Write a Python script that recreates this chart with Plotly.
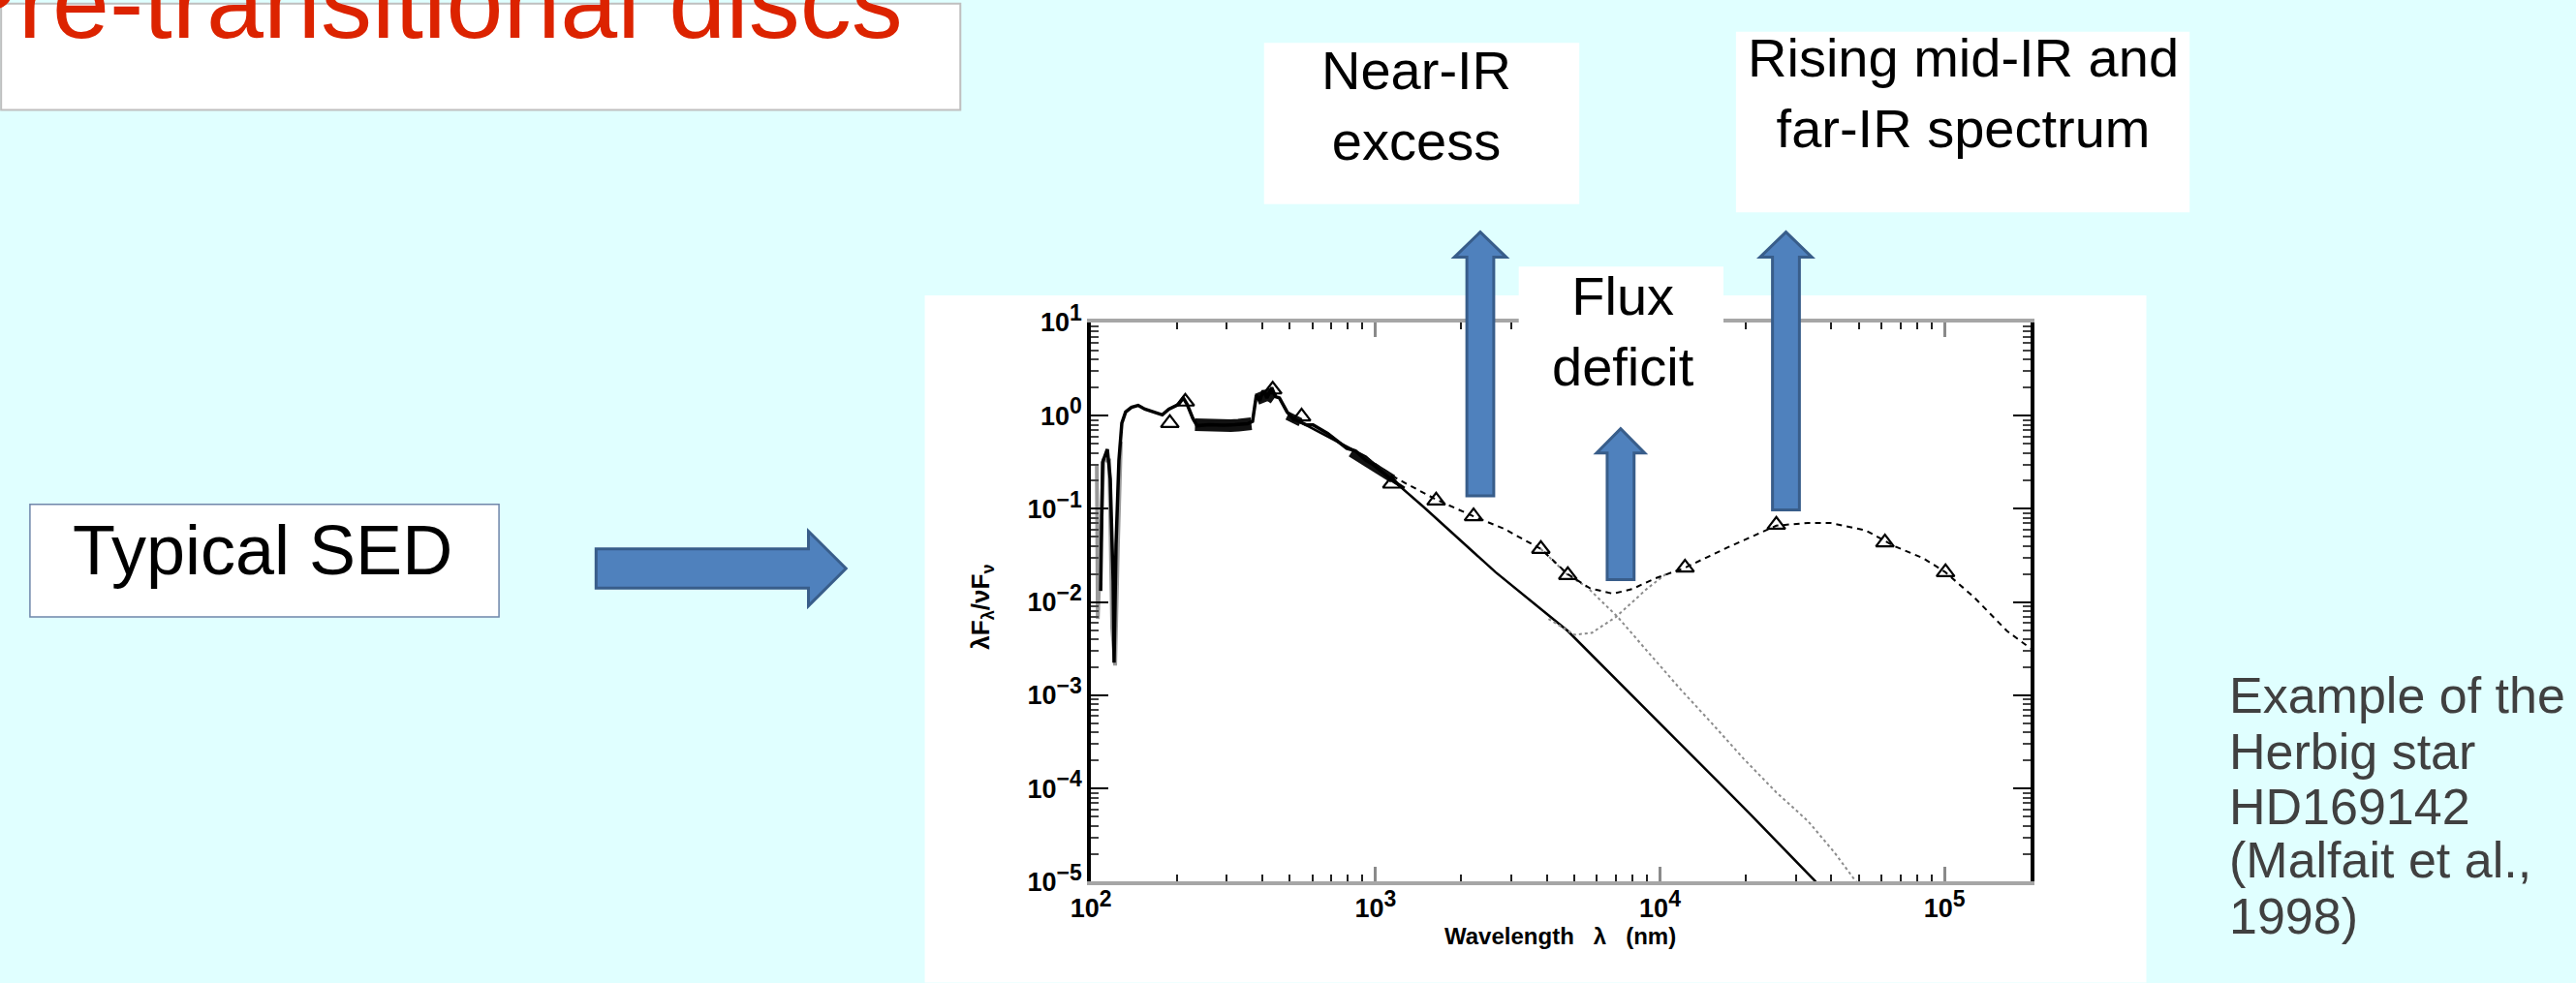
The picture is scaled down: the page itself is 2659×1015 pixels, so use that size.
import plotly.graph_objects as go

W, H = 2659, 1015

# ---------------- data ----------------
# observed UV/optical spectrum: wavelength (nm), lambda F_lambda / nu F_nu
spec_wl = [108.1, 108.9, 109.8, 114.1, 116.8, 119.6, 120.5, 122.4, 125.3, 128.3, 132.3, 138.7,
           146.4, 154.6, 167.1, 178.0, 187.8, 203.0, 211.0, 217.7, 228.1, 236, 260, 290, 320,
           355, 369.5, 381.2, 392, 402.5, 415, 431.6, 445, 459.4, 489.0, 510, 536.7, 570,
           603.1, 677.9, 791.8, 850, 925.1, 980, 1081, 1150, 1263]
spec_f = [0.0132, 0.066, 0.316, 0.437, 0.209, 0.0166, 0.00224, 0.0417, 0.331, 0.832, 1.096, 1.23,
          1.29, 1.175, 1.096, 1.02, 1.175, 1.318, 1.549, 1.318, 0.933, 0.78, 0.80, 0.79, 0.80,
          0.82, 0.871, 1.66, 1.45, 1.86, 1.55, 2.0, 1.6, 1.55, 1.096, 0.95, 0.871, 0.80,
          0.794, 0.646, 0.447, 0.42, 0.331, 0.30, 0.234, 0.20, 0.166]

# dense (noisy) stretches of the spectrum that print as thick bands
band1_wl = [232, 250, 270, 290, 310, 330, 350, 366]
band1_f = [0.80, 0.78, 0.77, 0.78, 0.78, 0.79, 0.80, 0.82]
band2_wl = [383, 400, 420, 440]
band2_f = [1.50, 1.62, 1.68, 1.52]
band3_wl = [490, 515, 545]
band3_f = [1.00, 0.92, 0.85]
band4_wl = [820, 1000, 1150]
band4_f = [0.40, 0.27, 0.21]

# grey low-resolution UV part
uv_wl = [104.8, 105.6, 110.6, 115.9, 118.7, 121.5, 124.3, 127.3]
uv_f = [0.295, 0.0066, 0.331, 0.331, 0.00525, 0.00209, 0.0417, 0.525]

# stellar photosphere model (solid)
phot_wl = [536.7, 925.1, 1476, 2644, 4740, 7383, 11775, 20780, 35270]
phot_f = [0.871, 0.363, 0.1047, 0.0209, 0.0049, 0.00126, 3.02e-4, 5.3e-5, 1.0e-5]

# total model (dashed)
tot_wl = [925.1, 1196, 1633, 2211, 2814, 3811, 4740, 5668, 6832, 7980, 9544, 12240, 17380,
          25630, 33130, 39630, 52840, 66710, 84300, 100800, 127300, 165800, 203000]
tot_f = [0.355, 0.209, 0.126, 0.0832, 0.0617, 0.0372, 0.01995, 0.0141, 0.0123, 0.0138, 0.0178,
         0.0234, 0.0389, 0.0661, 0.0708, 0.0708, 0.0589, 0.0398, 0.0295, 0.0209, 0.0112, 0.0049, 0.0031]

# star + inner disc component (dotted)
inner_wl = [3811, 4740, 5537, 7102, 9041, 11775, 15220, 19670, 25630, 33130, 40880, 48900]
inner_f = [0.0372, 0.0195, 0.0145, 0.00692, 0.00295, 0.00117, 5.0e-4, 2.09e-4, 9.1e-5, 4.47e-5,
           2.09e-5, 1.0e-5]

# star + outer disc component (dotted)
outer_wl = [4056, 5004, 5757, 6992, 9041, 10480]
outer_f = [0.00661, 0.00447, 0.00468, 0.00692, 0.0141, 0.01995]

# photometry (open triangles)
obs_wl = [189.2, 214.4, 435.0, 549.5, 1141, 1633, 2211, 3811, 4740, 12240, 25630, 61730, 100800]
obs_f = [0.832, 1.413, 1.905, 0.977, 0.186, 0.123, 0.0832, 0.0372, 0.0195, 0.0234, 0.0676,
         0.0437, 0.0209]

x_tick_vals = [1e2, 1e3, 1e4, 1e5]
x_tick_exp = ["2", "3", "4", "5"]
y_tick_vals = [1e-5, 1e-4, 1e-3, 1e-2, 1e-1, 1e0, 1e1]
y_tick_exp = ["\u22125", "\u22124", "\u22123", "\u22122", "\u22121", "0", "1"]

# ---------------- figure ----------------
def px(x):
    return x / W

def py(y):
    return 1 - y / H

FONT = "Liberation Sans, Arial, sans-serif"

def pow_label(e):
    return '10<sup><span style="font-size:23px">' + e + '</span></sup>'

fig = go.Figure()
fig.add_trace(go.Scatter(x=uv_wl, y=uv_f, mode="lines",
                         line=dict(color="#9a9a9a", width=4), hoverinfo="skip"))
fig.add_trace(go.Scatter(x=phot_wl, y=phot_f, mode="lines",
                         line=dict(color="black", width=2.5), hoverinfo="skip"))
fig.add_trace(go.Scatter(x=inner_wl, y=inner_f, mode="lines",
                         line=dict(color="#8c8c8c", width=2, dash="dot"), hoverinfo="skip"))
fig.add_trace(go.Scatter(x=outer_wl, y=outer_f, mode="lines",
                         line=dict(color="#8c8c8c", width=2, dash="dot"), hoverinfo="skip"))
fig.add_trace(go.Scatter(x=tot_wl, y=tot_f, mode="lines",
                         line=dict(color="black", width=2, dash="6px,5px"), hoverinfo="skip"))
for bw, bf, bwid in [(band1_wl, band1_f, 13), (band2_wl, band2_f, 12),
                     (band3_wl, band3_f, 9), (band4_wl, band4_f, 9)]:
    fig.add_trace(go.Scatter(x=bw, y=bf, mode="lines",
                             line=dict(color="#111111", width=bwid), hoverinfo="skip"))
fig.add_trace(go.Scatter(x=spec_wl, y=spec_f, mode="lines",
                         line=dict(color="black", width=3.5), hoverinfo="skip"))
fig.add_trace(go.Scatter(x=obs_wl, y=obs_f, mode="markers",
                         marker=dict(symbol="triangle-up-open", size=16, color="black",
                                     line=dict(width=2.2, color="black")), hoverinfo="skip"))

x_minor = [k * 10 ** e for e in range(2, 6) for k in range(2, 10) if k * 10 ** e <= 2e5]
y_minor = [k * 10.0 ** e for e in range(-5, 1) for k in range(2, 10)]

x0d = 1114
dec = 296
fig.update_xaxes(type="log", range=[2, 5.30103],
                 domain=[px(x0d), px(x0d + 3.30103 * dec)],
                 showgrid=False, zeroline=False,
                 showline=True, linecolor="#a6a6a6", linewidth=4, mirror="ticks",
                 ticks="inside", ticklen=15, tickwidth=3, tickcolor="#8a8a8a",
                 tickmode="array", tickvals=x_tick_vals,
                 ticktext=[pow_label(e) for e in x_tick_exp],
                 tickfont=dict(family=FONT, size=27, color="black", weight="bold"),
                 minor=dict(tickmode="array", tickvals=x_minor, ticks="inside", ticklen=7,
                            tickwidth=2, tickcolor="#222222", showgrid=False))
fig.update_yaxes(type="log", range=[-5, 1],
                 domain=[py(922), py(322)],
                 showgrid=False, zeroline=False,
                 showline=True, linecolor="black", linewidth=4, mirror="ticks",
                 ticks="inside", ticklen=18, tickwidth=2, tickcolor="black",
                 tickmode="array", tickvals=y_tick_vals,
                 ticktext=[pow_label(e) for e in y_tick_exp],
                 tickfont=dict(family=FONT, size=27, color="black", weight="bold"),
                 minor=dict(tickmode="array", tickvals=y_minor, ticks="inside", ticklen=8,
                            tickwidth=2, tickcolor="#444444", showgrid=False))

ARROW_FILL = "#4f81bd"
ARROW_LINE = "#385d8a"

def varrow(cx, tip, hb, hw, sw, by):
    pts = [(cx - sw, by), (cx - sw, hb), (cx - hw, hb), (cx, tip), (cx + hw, hb),
           (cx + sw, hb), (cx + sw, by)]
    path = "M " + " L ".join(f"{px(a):.6f},{py(b):.6f}" for a, b in pts) + " Z"
    return dict(type="path", path=path, xref="paper", yref="paper", layer="above",
                fillcolor=ARROW_FILL, line=dict(color=ARROW_LINE, width=3))

def harrow():
    pts = [(599, 565), (820, 565), (820, 546), (859, 586), (820, 626), (820, 607), (599, 607)]
    path = "M " + " L ".join(f"{px(a):.6f},{py(b):.6f}" for a, b in pts) + " Z"
    return dict(type="path", path=path, xref="paper", yref="paper", layer="above",
                fillcolor=ARROW_FILL, line=dict(color=ARROW_LINE, width=3))

def box(x0, y0, x1, y1, layer="below", line=None):
    return dict(type="rect", xref="paper", yref="paper", x0=px(x0), x1=px(x1),
                y0=py(y1), y1=py(y0), fillcolor="white", layer=layer,
                line=line if line else dict(width=0))

shapes = [
    box(941, 293, 2212, 1030),
    box(-20, -20, 978, 94, line=dict(color="#bfbfbf", width=2)),
    box(1294, 22, 1622, 195),
    box(1785, 10, 2257, 204),
    box(1559, 262, 1772, 425, layer="above"),
    box(10, 517, 498, 638, line=dict(color="#6f86aa", width=1.5)),
    harrow(),
    varrow(1519, 225, 252, 27, 14, 508),
    varrow(1837, 225, 252, 27, 14, 523),
    varrow(1665, 436, 462, 25, 14, 598),
]

def ann(text, x, y, size, color="black", xanchor="center", yanchor="middle", angle=0,
        weight="normal", align="center"):
    return dict(text=text, x=px(x), y=py(y), xref="paper", yref="paper", showarrow=False,
                xanchor=xanchor, yanchor=yanchor, textangle=angle, align=align,
                font=dict(family=FONT, size=size, color=color, weight=weight))

annotations = [
    ann("Pre-transitional discs", -76, -22, 106, color="#dc2300", xanchor="left"),
    ann("Near-IR<br>excess", 1452, 89, 56),
    ann("Rising mid-IR and<br>far-IR spectrum", 2021, 76, 56),
    ann("Flux<br>deficit", 1668, 331, 56),
    ann("Typical SED", 252, 566, 72),
    ann("Wavelength   \u03bb   (nm)", 1602, 980, 24, weight="bold"),
    ann("\u03bbF<sub>\u03bb</sub>/\u03bdF<sub>\u03bd</sub>", 1000, 627, 26, angle=-90,
        weight="bold"),
]
ex_lines = ["Example of the", "Herbig star", "HD169142", "(Malfait et al.,", "1998)"]
ex_base = [743, 803, 862, 920, 980]
for line, b in zip(ex_lines, ex_base):
    annotations.append(ann(line, 2296, b - 21, 52, color="#404040", xanchor="left",
                           align="left"))

fig.update_layout(width=W, height=H, autosize=False,
                  margin=dict(l=0, r=0, t=0, b=0, pad=0),
                  paper_bgcolor="#e0ffff", plot_bgcolor="white",
                  showlegend=False, shapes=shapes, annotations=annotations)

fig.write_html("out.html", config={"displayModeBar": False},
               post_script=("var s=document.createElement('style');"
                            "s.innerHTML='html,body{margin:0;padding:0;overflow:hidden;}';"
                            "document.head.appendChild(s);"
                            "document.body.style.margin='0';"))
